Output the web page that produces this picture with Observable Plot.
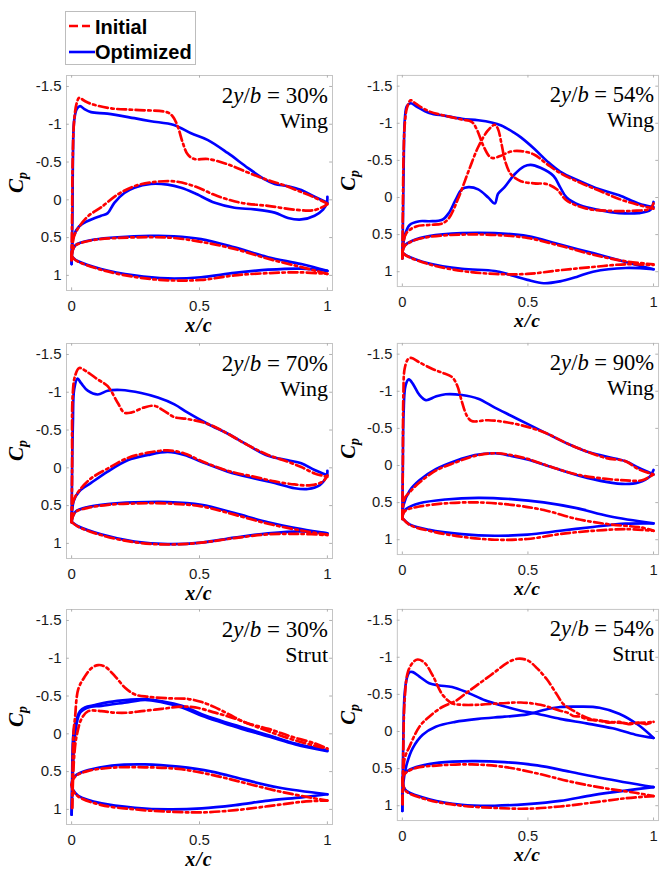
<!DOCTYPE html>
<html><head><meta charset="utf-8">
<script src="https://cdn.jsdelivr.net/npm/d3@7"></script>
<script src="https://cdn.jsdelivr.net/npm/@observablehq/plot@0.6"></script>
<style>
html,body{margin:0;padding:0;background:#fff;overflow:hidden;}
#root{position:relative;width:662px;height:869px;overflow:hidden;background:#fff;}
.panel{position:absolute;}
#legend{position:absolute;left:65px;top:11px;width:129px;height:52px;border:1px solid #bdbdbd;background:#fff;
  font-family:"Liberation Sans",Arial,sans-serif;font-weight:bold;font-size:20px;color:#000;}
#legend .sw{position:absolute;left:2px;}
#legend .lab{position:absolute;left:29px;line-height:20px;}
</style></head>
<body><div id="root"></div>
<script>
// ---------- labels / ticks ----------
const seriesNames = ["Initial", "Optimized"];
const panelSpans = ["30%", "54%", "70%", "90%", "30%", "54%"];
const panelParts = ["Wing", "Wing", "Wing", "Wing", "Strut", "Strut"];
const yTicks = [-1.5, -1, -0.5, 0, 0.5, 1];
const yTickLabels = ["-1.5", "-1", "-0.5", "0", "0.5", "1"];
const xTicks = [0, 0.5, 1];
const xTickLabels = ["0", "0.5", "1"];

// ---------- Wing 2y/b = 30% ----------
const w30_cp_init_up = [[0,0.8],[0.002,0.2],[0.004,-0.5],[0.01,-1.05],[0.02,-1.28],[0.03,-1.35],[0.05,-1.31],[0.076,-1.27],[0.154,-1.21],[0.245,-1.19],[0.376,-1.155],[0.396,-1.1],[0.415,-0.97],[0.435,-0.75],[0.454,-0.6],[0.48,-0.54],[0.533,-0.54],[0.61,-0.47],[0.69,-0.36],[0.768,-0.26],[0.833,-0.19],[0.9,-0.1],[0.95,-0.03],[1.0,0.05]];
const w30_cp_init_lo = [[0,0.8],[0.008,0.5],[0.023,0.39],[0.063,0.22],[0.115,0.1],[0.18,-0.07],[0.245,-0.18],[0.31,-0.23],[0.40,-0.245],[0.48,-0.18],[0.57,-0.05],[0.663,0.04],[0.768,0.08],[0.872,0.13],[0.95,0.135],[1.0,0.06]];
const w30_cp_opt_up = [[0,0.85],[0.003,0.3],[0.005,-0.5],[0.01,-1.05],[0.02,-1.2],[0.033,-1.24],[0.05,-1.2],[0.076,-1.16],[0.14,-1.14],[0.245,-1.08],[0.31,-1.04],[0.40,-0.99],[0.467,-0.88],[0.533,-0.79],[0.61,-0.62],[0.69,-0.42],[0.755,-0.27],[0.794,-0.21],[0.846,-0.18],[0.898,-0.13],[0.95,-0.04],[1.0,0.04]];
const w30_cp_opt_lo = [[0,0.85],[0.008,0.48],[0.03,0.35],[0.063,0.28],[0.115,0.21],[0.14,0.18],[0.167,0.04],[0.206,-0.09],[0.245,-0.16],[0.31,-0.21],[0.376,-0.2],[0.428,-0.16],[0.48,-0.09],[0.56,0.04],[0.637,0.105],[0.715,0.127],[0.794,0.17],[0.846,0.24],[0.898,0.26],[0.95,0.21],[0.983,0.13],[0.998,0.04],[1.0,-0.04]];
const w30_af_init_up = [[0,0.74],[0.005,0.66],[0.015,0.605],[0.037,0.57],[0.089,0.53],[0.18,0.505],[0.31,0.495],[0.40,0.505],[0.506,0.556],[0.637,0.65],[0.768,0.78],[0.898,0.89],[1,0.98]];
const w30_af_init_lo = [[0,0.74],[0.01,0.785],[0.023,0.815],[0.115,0.925],[0.245,1.02],[0.376,1.065],[0.506,1.06],[0.637,1.0],[0.768,0.97],[0.898,0.96],[1,0.98]];
const w30_af_opt_up = [[0,0.74],[0.005,0.66],[0.015,0.6],[0.037,0.565],[0.089,0.525],[0.18,0.495],[0.31,0.478],[0.40,0.482],[0.506,0.52],[0.637,0.63],[0.768,0.76],[0.898,0.85],[1,0.94]];
const w30_af_opt_lo = [[0,0.74],[0.01,0.78],[0.023,0.81],[0.115,0.915],[0.245,1.0],[0.376,1.04],[0.506,1.025],[0.637,0.967],[0.768,0.925],[0.898,0.91],[1,0.94]];

// ---------- Wing 2y/b = 54% ----------
const w54_cp_init_up = [[0,0.82],[0.002,0.2],[0.005,-0.6],[0.01,-1.0],[0.018,-1.2],[0.033,-1.31],[0.055,-1.26],[0.107,-1.16],[0.172,-1.1],[0.237,-1.05],[0.276,-1.02],[0.296,-0.92],[0.322,-0.7],[0.345,-0.56],[0.36,-0.53],[0.39,-0.56],[0.433,-0.62],[0.472,-0.625],[0.524,-0.58],[0.576,-0.45],[0.628,-0.33],[0.707,-0.2],[0.785,-0.09],[0.863,0.02],[0.94,0.1],[1.0,0.15]];
const w54_cp_init_lo = [[0,0.82],[0.005,0.6],[0.016,0.48],[0.055,0.39],[0.107,0.37],[0.159,0.35],[0.185,0.28],[0.224,0.0],[0.263,-0.35],[0.302,-0.68],[0.34,-0.9],[0.368,-0.98],[0.38,-0.93],[0.395,-0.72],[0.41,-0.48],[0.433,-0.31],[0.472,-0.22],[0.524,-0.19],[0.576,-0.18],[0.615,-0.11],[0.654,0.04],[0.733,0.15],[0.824,0.18],[0.915,0.18],[0.987,0.15],[1.0,0.08]];
const w54_cp_opt_up = [[0,0.82],[0.003,0.2],[0.006,-0.6],[0.01,-1.06],[0.018,-1.23],[0.033,-1.27],[0.055,-1.23],[0.107,-1.14],[0.172,-1.1],[0.237,-1.06],[0.302,-1.04],[0.355,-1.01],[0.394,-0.97],[0.446,-0.87],[0.472,-0.81],[0.524,-0.66],[0.576,-0.49],[0.628,-0.35],[0.707,-0.22],[0.785,-0.11],[0.863,-0.03],[0.94,0.08],[1.0,0.13]];
const w54_cp_opt_lo = [[0,0.82],[0.009,0.52],[0.029,0.37],[0.068,0.32],[0.107,0.32],[0.159,0.3],[0.185,0.21],[0.211,0.04],[0.237,-0.11],[0.263,-0.14],[0.302,-0.11],[0.342,0.0],[0.368,0.08],[0.381,-0.05],[0.407,-0.14],[0.446,-0.31],[0.485,-0.42],[0.511,-0.44],[0.55,-0.4],[0.602,-0.29],[0.628,-0.14],[0.654,0.0],[0.707,0.105],[0.785,0.17],[0.863,0.21],[0.94,0.21],[0.987,0.17],[1.0,0.06]];
const w54_af_init_up = [[0,0.74],[0.009,0.655],[0.042,0.585],[0.107,0.53],[0.237,0.5],[0.368,0.505],[0.498,0.545],[0.628,0.65],[0.759,0.77],[0.889,0.86],[1,0.9]];
const w54_af_init_lo = [[0,0.74],[0.016,0.785],[0.107,0.9],[0.237,0.99],[0.368,1.03],[0.498,1.03],[0.628,0.98],[0.759,0.936],[0.889,0.9],[1,0.91]];
const w54_af_opt_up = [[0,0.74],[0.009,0.65],[0.042,0.58],[0.107,0.52],[0.237,0.48],[0.368,0.48],[0.498,0.52],[0.628,0.635],[0.759,0.75],[0.889,0.87],[1,0.967]];
const w54_af_opt_lo = [[0,0.74],[0.016,0.78],[0.107,0.89],[0.237,0.96],[0.368,0.99],[0.433,1.046],[0.498,1.11],[0.563,1.155],[0.628,1.13],[0.694,1.07],[0.759,1.0],[0.889,0.95],[1,0.967]];

// ---------- Wing 2y/b = 70% ----------
const w70_cp_init_up = [[0,0.72],[0.002,0.0],[0.004,-0.95],[0.013,-1.21],[0.03,-1.32],[0.056,-1.28],[0.102,-1.17],[0.141,-1.08],[0.18,-0.86],[0.206,-0.73],[0.232,-0.73],[0.285,-0.8],[0.324,-0.82],[0.363,-0.75],[0.402,-0.67],[0.454,-0.645],[0.533,-0.58],[0.611,-0.45],[0.689,-0.3],[0.768,-0.17],[0.846,-0.08],[0.898,-0.01],[0.95,0.074],[1.0,0.12]];
const w70_cp_init_lo = [[0,0.72],[0.006,0.45],[0.03,0.3],[0.076,0.14],[0.141,0.01],[0.219,-0.13],[0.298,-0.2],[0.376,-0.23],[0.441,-0.19],[0.507,-0.09],[0.611,0.04],[0.715,0.12],[0.794,0.18],[0.872,0.22],[0.937,0.23],[0.983,0.18],[1.0,0.1]];
const w70_cp_opt_up = [[0,0.72],[0.002,0.0],[0.005,-0.6],[0.01,-1.04],[0.023,-1.18],[0.037,-1.12],[0.063,-1.02],[0.102,-0.97],[0.141,-1.02],[0.193,-1.03],[0.272,-0.99],[0.337,-0.93],[0.402,-0.84],[0.454,-0.73],[0.533,-0.58],[0.611,-0.45],[0.689,-0.3],[0.768,-0.16],[0.846,-0.1],[0.898,-0.06],[0.95,0.03],[1.0,0.1]];
const w70_cp_opt_lo = [[0,0.72],[0.008,0.44],[0.03,0.31],[0.076,0.2],[0.141,0.05],[0.219,-0.1],[0.298,-0.17],[0.376,-0.21],[0.441,-0.17],[0.507,-0.08],[0.611,0.05],[0.715,0.14],[0.794,0.2],[0.872,0.27],[0.924,0.28],[0.97,0.23],[0.998,0.1],[1.0,0.04]];
const w70_af_init_up = [[0,0.715],[0.005,0.645],[0.017,0.58],[0.063,0.53],[0.141,0.49],[0.245,0.472],[0.376,0.472],[0.507,0.51],[0.637,0.62],[0.768,0.74],[0.898,0.83],[1,0.885]];
const w70_af_init_lo = [[0,0.715],[0.023,0.775],[0.115,0.89],[0.245,0.985],[0.376,1.015],[0.507,0.99],[0.637,0.93],[0.768,0.88],[0.898,0.875],[1,0.89]];
const w70_af_opt_up = [[0,0.715],[0.005,0.64],[0.017,0.575],[0.063,0.52],[0.141,0.48],[0.245,0.458],[0.376,0.453],[0.507,0.49],[0.637,0.6],[0.768,0.72],[0.898,0.81],[1,0.867]];
const w70_af_opt_lo = [[0,0.715],[0.023,0.77],[0.115,0.88],[0.245,0.976],[0.376,1.01],[0.507,0.99],[0.637,0.924],[0.768,0.867],[0.898,0.84],[1,0.867]];

// ---------- Wing 2y/b = 90% ----------
const w90_cp_init_up = [[0,0.72],[0.002,0.0],[0.004,-0.95],[0.009,-1.3],[0.022,-1.43],[0.035,-1.45],[0.068,-1.39],[0.12,-1.3],[0.159,-1.25],[0.198,-1.19],[0.218,-1.08],[0.237,-0.86],[0.257,-0.67],[0.276,-0.6],[0.342,-0.61],[0.42,-0.58],[0.498,-0.52],[0.576,-0.43],[0.654,-0.3],[0.733,-0.19],[0.811,-0.1],[0.889,-0.057],[0.94,0.05],[1.0,0.12]];
const w90_cp_init_lo = [[0,0.72],[0.008,0.45],[0.029,0.36],[0.068,0.23],[0.133,0.07],[0.211,-0.04],[0.289,-0.13],[0.368,-0.165],[0.433,-0.14],[0.498,-0.09],[0.602,0.03],[0.707,0.13],[0.811,0.18],[0.889,0.2],[0.954,0.2],[1.0,0.12]];
const w90_cp_opt_up = [[0,0.72],[0.002,0.0],[0.005,-0.7],[0.013,-1.08],[0.026,-1.16],[0.042,-1.1],[0.068,-0.95],[0.094,-0.88],[0.133,-0.93],[0.172,-0.96],[0.237,-0.95],[0.302,-0.9],[0.368,-0.78],[0.433,-0.67],[0.498,-0.56],[0.576,-0.43],[0.654,-0.3],[0.733,-0.19],[0.811,-0.12],[0.889,-0.057],[0.94,0.03],[1.0,0.12]];
const w90_cp_opt_lo = [[0,0.72],[0.005,0.53],[0.029,0.34],[0.068,0.2],[0.133,0.05],[0.211,-0.06],[0.289,-0.14],[0.368,-0.165],[0.433,-0.13],[0.498,-0.08],[0.602,0.03],[0.707,0.14],[0.811,0.22],[0.889,0.25],[0.94,0.23],[0.985,0.15],[1.0,0.06]];
const w90_af_init_up = [[0,0.71],[0.005,0.64],[0.016,0.6],[0.068,0.553],[0.172,0.51],[0.302,0.497],[0.433,0.53],[0.563,0.6],[0.694,0.72],[0.824,0.793],[0.954,0.837],[1,0.88]];
const w90_af_init_lo = [[0,0.71],[0.029,0.8],[0.107,0.88],[0.237,0.96],[0.368,1.0],[0.498,0.99],[0.628,0.924],[0.759,0.88],[0.889,0.858],[1,0.88]];
const w90_af_opt_up = [[0,0.71],[0.005,0.63],[0.016,0.585],[0.068,0.51],[0.172,0.458],[0.302,0.436],[0.433,0.453],[0.563,0.497],[0.694,0.575],[0.824,0.684],[1,0.78]];
const w90_af_opt_lo = [[0,0.71],[0.029,0.793],[0.107,0.867],[0.237,0.924],[0.368,0.946],[0.498,0.932],[0.628,0.88],[0.759,0.828],[0.889,0.784],[1,0.78]];

// ---------- Strut 2y/b = 30% ----------
const s30_cp_init_up = [[0.002,0.98],[0.004,0.4],[0.008,-0.05],[0.013,-0.2],[0.026,-0.59],[0.052,-0.76],[0.078,-0.87],[0.104,-0.91],[0.13,-0.89],[0.17,-0.76],[0.209,-0.61],[0.248,-0.52],[0.3,-0.49],[0.379,-0.47],[0.457,-0.46],[0.509,-0.42],[0.561,-0.35],[0.614,-0.26],[0.679,-0.15],[0.77,-0.065],[0.862,0.04],[0.953,0.13],[1.0,0.196]];
const s30_cp_init_lo = [[0.002,0.98],[0.01,0.3],[0.02,0.02],[0.039,-0.2],[0.065,-0.3],[0.117,-0.3],[0.17,-0.28],[0.222,-0.28],[0.274,-0.3],[0.352,-0.33],[0.431,-0.36],[0.483,-0.35],[0.561,-0.28],[0.64,-0.2],[0.718,-0.1],[0.796,0.0],[0.875,0.087],[0.953,0.16],[1.0,0.196]];
const s30_cp_opt_up = [[0,1.07],[0.002,0.6],[0.005,0.1],[0.01,-0.07],[0.02,-0.2],[0.033,-0.3],[0.052,-0.35],[0.091,-0.38],[0.144,-0.42],[0.222,-0.45],[0.287,-0.46],[0.352,-0.43],[0.431,-0.37],[0.509,-0.26],[0.587,-0.17],[0.666,-0.087],[0.77,0.02],[0.875,0.13],[1.0,0.22]];
const s30_cp_opt_lo = [[0,1.07],[0.005,0.5],[0.013,0.02],[0.033,-0.28],[0.065,-0.35],[0.117,-0.37],[0.222,-0.42],[0.287,-0.45],[0.352,-0.42],[0.431,-0.35],[0.509,-0.24],[0.587,-0.15],[0.666,-0.065],[0.77,0.035],[0.875,0.14],[1.0,0.23]];
const s30_af_init_up = [[0,0.674],[0.005,0.605],[0.02,0.55],[0.065,0.49],[0.157,0.448],[0.287,0.443],[0.418,0.465],[0.548,0.543],[0.679,0.652],[0.809,0.76],[0.94,0.848],[1,0.883]];
const s30_af_init_lo = [[0,0.674],[0.005,0.745],[0.026,0.83],[0.117,0.943],[0.248,1.0],[0.379,1.03],[0.509,1.04],[0.64,1.01],[0.77,0.957],[0.9,0.9],[1,0.883]];
const s30_af_opt_up = [[0,0.674],[0.005,0.6],[0.02,0.54],[0.065,0.48],[0.157,0.42],[0.287,0.404],[0.418,0.435],[0.548,0.5],[0.679,0.61],[0.809,0.71],[1,0.8]];
const s30_af_opt_lo = [[0,0.674],[0.005,0.74],[0.026,0.82],[0.117,0.92],[0.248,0.978],[0.379,1.0],[0.509,0.987],[0.64,0.943],[0.77,0.883],[0.9,0.84],[1,0.8]];

// ---------- Strut 2y/b = 54% ----------
const s54_cp_init_up = [[0.001,0.98],[0.004,0.2],[0.009,-0.41],[0.022,-0.8],[0.042,-0.93],[0.061,-0.97],[0.087,-0.93],[0.12,-0.76],[0.159,-0.5],[0.198,-0.38],[0.237,-0.36],[0.302,-0.36],[0.394,-0.38],[0.472,-0.39],[0.55,-0.36],[0.628,-0.28],[0.66,-0.25],[0.68,-0.21],[0.707,-0.2],[0.74,-0.16],[0.785,-0.15],[0.82,-0.12],[0.863,-0.13],[0.9,-0.1],[0.94,-0.12],[0.97,-0.1],[1.0,-0.13]];
const s54_cp_init_lo = [[0.001,0.98],[0.009,0.37],[0.029,0.2],[0.068,-0.065],[0.107,-0.2],[0.159,-0.33],[0.211,-0.41],[0.263,-0.54],[0.316,-0.67],[0.368,-0.8],[0.42,-0.93],[0.459,-0.98],[0.498,-0.96],[0.537,-0.85],[0.576,-0.7],[0.615,-0.5],[0.641,-0.37],[0.681,-0.28],[0.746,-0.17],[0.824,-0.13],[0.915,-0.11],[1.0,-0.13]];
const s54_cp_opt_up = [[0,1.07],[0.003,0.3],[0.009,-0.5],[0.018,-0.72],[0.029,-0.8],[0.042,-0.8],[0.068,-0.74],[0.107,-0.65],[0.146,-0.62],[0.198,-0.6],[0.263,-0.52],[0.329,-0.42],[0.394,-0.35],[0.472,-0.28],[0.537,-0.24],[0.628,-0.17],[0.733,-0.11],[0.837,-0.043],[0.928,0.043],[1.0,0.087]];
const s54_cp_opt_lo = [[0,1.07],[0.003,0.72],[0.016,0.46],[0.042,0.22],[0.081,0.043],[0.133,-0.065],[0.211,-0.13],[0.302,-0.17],[0.407,-0.2],[0.498,-0.23],[0.563,-0.29],[0.628,-0.33],[0.707,-0.335],[0.785,-0.32],[0.863,-0.24],[0.94,-0.087],[1.0,0.087]];
const s54_af_init_up = [[0,0.65],[0.005,0.59],[0.016,0.55],[0.055,0.49],[0.146,0.457],[0.276,0.443],[0.407,0.478],[0.537,0.565],[0.668,0.674],[0.798,0.76],[0.928,0.826],[1,0.87]];
const s54_af_init_lo = [[0,0.65],[0.005,0.745],[0.016,0.81],[0.107,0.926],[0.237,1.0],[0.368,1.03],[0.498,1.04],[0.628,1.01],[0.759,0.957],[0.889,0.9],[1,0.87]];
const s54_af_opt_up = [[0,0.65],[0.005,0.58],[0.016,0.54],[0.055,0.48],[0.146,0.42],[0.276,0.4],[0.407,0.413],[0.537,0.457],[0.668,0.543],[0.798,0.63],[1,0.75]];
const s54_af_opt_lo = [[0,0.65],[0.005,0.74],[0.016,0.8],[0.107,0.913],[0.237,0.987],[0.368,1.0],[0.498,0.978],[0.628,0.935],[0.759,0.857],[0.889,0.796],[1,0.75]];

// ---------- assemble ----------
const panels = [
  {init:[w30_cp_init_up,w30_cp_init_lo,w30_af_init_up,w30_af_init_lo], opt:[w30_cp_opt_up,w30_cp_opt_lo,w30_af_opt_up,w30_af_opt_lo]},
  {init:[w54_cp_init_up,w54_cp_init_lo,w54_af_init_up,w54_af_init_lo], opt:[w54_cp_opt_up,w54_cp_opt_lo,w54_af_opt_up,w54_af_opt_lo]},
  {init:[w70_cp_init_up,w70_cp_init_lo,w70_af_init_up,w70_af_init_lo], opt:[w70_cp_opt_up,w70_cp_opt_lo,w70_af_opt_up,w70_af_opt_lo]},
  {init:[w90_cp_init_up,w90_cp_init_lo,w90_af_init_up,w90_af_init_lo], opt:[w90_cp_opt_up,w90_cp_opt_lo,w90_af_opt_up,w90_af_opt_lo]},
  {init:[s30_cp_init_up,s30_cp_init_lo,s30_af_init_up,s30_af_init_lo], opt:[s30_cp_opt_up,s30_cp_opt_lo,s30_af_opt_up,s30_af_opt_lo]},
  {init:[s54_cp_init_up,s54_cp_init_lo,s54_af_init_up,s54_af_init_lo], opt:[s54_cp_opt_up,s54_cp_opt_lo,s54_af_opt_up,s54_af_opt_lo]}
];

const RED = "#ff0000", BLUE = "#0000ff", DASH = "9,3.5,2.5,3.5";
const root = document.getElementById("root");

// legend (HTML, above the panels)
const legend = document.createElement("div");
legend.id = "legend";
legend.innerHTML =
  `<svg class="sw" width="26" height="20" style="top:4px"><line x1="1" y1="10" x2="22" y2="10" stroke="${RED}" stroke-width="2.6" stroke-dasharray="9,4"/></svg>` +
  `<div class="lab" style="top:5px">${seriesNames[0]}</div>` +
  `<svg class="sw" width="28" height="20" style="top:30px"><line x1="1" y1="10" x2="27" y2="10" stroke="${BLUE}" stroke-width="2.6"/></svg>` +
  `<div class="lab" style="top:30px">${seriesNames[1]}</div>`;

function rowsOf(curves, series) {
  const out = [];
  curves.forEach((c, k) => c.forEach(([x, y]) => out.push({x, y, key: series + k, series})));
  return out;
}

const W = 336, H = 268, ML = 66, MR = 4, MT = 5, MB = 48;
const pos = [[0,70],[332,70],[0,338],[332,338],[0,604],[332,604]];
const XD = [-0.02, 1.02], YD = [-1.645, 1.2];

panels.forEach((p, i) => {
  const init = rowsOf(p.init, seriesNames[0]);
  const opt = rowsOf(p.opt, seriesNames[1]);
  const plot = Plot.plot({
    width: W, height: H, marginLeft: ML, marginRight: MR, marginTop: MT, marginBottom: MB,
    style: {fontFamily: '"Liberation Sans",Arial,sans-serif', fontSize: "15px", color: "#1a1a1a", background: "transparent", overflow: "visible"},
    x: {domain: XD, ticks: xTicks, tickFormat: d => xTickLabels[xTicks.indexOf(d)], tickSize: 0, tickPadding: 10, label: null},
    y: {domain: YD, reverse: true, ticks: yTicks, tickFormat: d => yTickLabels[yTicks.indexOf(d)], tickSize: 0, tickPadding: 5, label: null},
    marks: [
      Plot.frame({stroke: "#c4c4c4", strokeWidth: 1}),
      Plot.ruleY(yTicks, {x1: XD[0], x2: XD[0] + 0.011, stroke: "#b0b0b0"}),
      Plot.ruleY(yTicks, {x1: XD[1], x2: XD[1] - 0.011, stroke: "#b0b0b0"}),
      Plot.ruleX(xTicks, {y1: YD[1], y2: YD[1] - 0.035, stroke: "#b0b0b0"}),
      Plot.ruleX(xTicks, {y1: YD[0], y2: YD[0] + 0.035, stroke: "#b0b0b0"}),
      Plot.line(opt, {x: "x", y: "y", z: "key", stroke: BLUE, strokeWidth: 2.7, curve: "catmull-rom", clip: true}),
      Plot.line(init, {x: "x", y: "y", z: "key", stroke: RED, strokeWidth: 2.7, strokeDasharray: DASH, curve: "catmull-rom", clip: true})
    ]
  });
  const svg = d3.select(plot);
  const serif = '"Liberation Serif","Times New Roman",serif';
  const right = W - MR - 4;
  const t1 = svg.append("text").attr("x", right).attr("y", MT + 28).attr("text-anchor", "end")
    .style("font-family", serif).style("font-size", "23px").attr("fill", "#000");
  t1.append("tspan").text("2");
  t1.append("tspan").style("font-style", "italic").text("y");
  t1.append("tspan").text("/");
  t1.append("tspan").style("font-style", "italic").text("b");
  t1.append("tspan").text(" = " + panelSpans[i]);
  svg.append("text").attr("x", right).attr("y", MT + 53).attr("text-anchor", "end")
    .style("font-family", serif).style("font-size", "22px").attr("fill", "#000").text(panelParts[i]);
  // y label C_p
  const cy = MT + (H - MT - MB) / 2;
  const yl = svg.append("text").attr("transform", `translate(23,${cy}) rotate(-90)`).attr("text-anchor", "middle")
    .style("font-family", serif).style("font-size", "21px").style("font-weight", "bold").style("font-style", "italic").attr("fill", "#000");
  yl.append("tspan").text("C");
  yl.append("tspan").attr("dy", "4").style("font-size", "14px").text("p");
  // x label x/c
  const xs = plot.scale("x").apply(0.5);
  svg.append("text").attr("x", xs).attr("y", H - MB + 42).attr("text-anchor", "middle")
    .style("font-family", serif).style("font-size", "20px").style("font-weight", "bold").style("font-style", "italic")
    .style("letter-spacing", "1px").attr("fill", "#000").text("x/c");
  const wrap = document.createElement("div");
  wrap.className = "panel";
  wrap.style.left = pos[i][0] + "px";
  wrap.style.top = pos[i][1] + "px";
  wrap.appendChild(plot);
  root.appendChild(wrap);
});
root.appendChild(legend);
</script>
</body></html>
